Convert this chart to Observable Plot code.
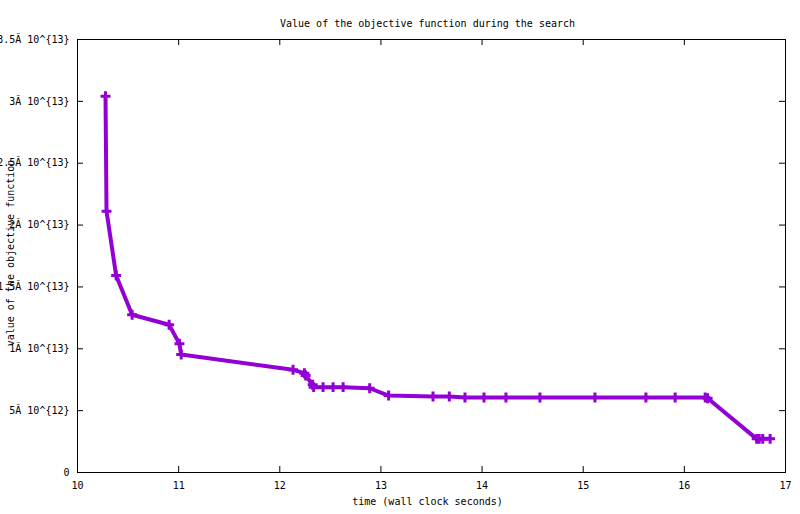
<!DOCTYPE html>
<html><head><meta charset="utf-8">
<script src="https://cdn.jsdelivr.net/npm/d3@7"></script>
<script src="https://cdn.jsdelivr.net/npm/@observablehq/plot@0.6"></script>
<style>body{margin:0;background:#fff}</style>
</head><body><div id="chart"></div>
<script>
const times = [10.277, 10.287, 10.382, 10.540, 10.906, 11.008, 11.025, 12.131, 12.243, 12.256, 12.325, 12.335, 12.428, 12.527, 12.626, 12.889, 13.076, 13.515, 13.676, 13.831, 14.019, 14.236, 14.572, 15.116, 15.620, 15.909, 16.206, 16.230, 16.715, 16.740, 16.775, 16.848];
const values = [3.042e13, 2.112e13, 1.592e13, 1.275e13, 1.194e13, 1.040e13, 0.954e13, 0.830e13, 0.803e13, 0.784e13, 0.709e13, 0.690e13, 0.690e13, 0.690e13, 0.690e13, 0.681e13, 0.622e13, 0.614e13, 0.614e13, 0.606e13, 0.606e13, 0.606e13, 0.606e13, 0.606e13, 0.606e13, 0.606e13, 0.606e13, 0.600e13, 0.272e13, 0.272e13, 0.272e13, 0.272e13];
const xTicks = [10, 11, 12, 13, 14, 15, 16, 17];
const yTicks = [0, 5e12, 1e13, 1.5e13, 2e13, 2.5e13, 3e13, 3.5e13];
const yTickLabels = ["0", "5Ã 10^{12}", "1Ã 10^{13}", "1.5Ã 10^{13}", "2Ã 10^{13}", "2.5Ã 10^{13}", "3Ã 10^{13}", "3.5Ã 10^{13}"];
const title = "Value of the objective function during the search";
const xLabel = "time (wall clock seconds)";
const yLabel = "value of the objective function";

const data = times.map((t, i) => ({t, v: values[i]}));
const W = 800, H = 514, mL = 77, mR = 15, mT = 39, mB = 42;
const plotW = W - mL - mR, plotH = H - mT - mB;
const col = "#9400d3";

const chart = Plot.plot({
  width: W, height: H,
  marginLeft: mL, marginRight: mR, marginTop: mT, marginBottom: mB,
  style: {fontFamily: "'DejaVu Sans Mono', monospace", fontSize: "10px", background: "#fff", color: "#000"},
  x: {domain: [10, 17], label: null},
  y: {domain: [0, 3.5e13], label: null},
  marks: [
    Plot.tickX(xTicks, {x: d => d, insetTop: plotH - 6, stroke: "#000"}),
    Plot.tickX(xTicks, {x: d => d, insetBottom: plotH - 6, stroke: "#000"}),
    Plot.tickY(yTicks, {y: d => d, insetRight: plotW - 6, stroke: "#000"}),
    Plot.tickY(yTicks, {y: d => d, insetLeft: plotW - 6, stroke: "#000"}),
    Plot.axisX(xTicks, {tickSize: 0, tickPadding: 9, tickFormat: d => String(d), label: null}),
    Plot.axisY(yTicks, {tickSize: 0, tickPadding: 8, tickFormat: d => yTickLabels[yTicks.indexOf(d)], label: null}),
    Plot.line(data, {x: "t", y: "v", stroke: col, strokeWidth: 4}),
    Plot.dot(data, {x: "t", y: "v", symbol: "plus", r: 3.3, stroke: col, strokeWidth: 3}),
    Plot.frame({stroke: "#000"}),
    Plot.text([title], {frameAnchor: "top", dy: -20, dx: -4}),
    Plot.text([xLabel], {frameAnchor: "bottom", dy: 32, dx: -4}),
    Plot.text([yLabel], {frameAnchor: "left", textAnchor: "middle", rotate: -90, dx: -67, dy: -3})
  ]
});
document.getElementById("chart").appendChild(chart);
</script>
</body></html>
